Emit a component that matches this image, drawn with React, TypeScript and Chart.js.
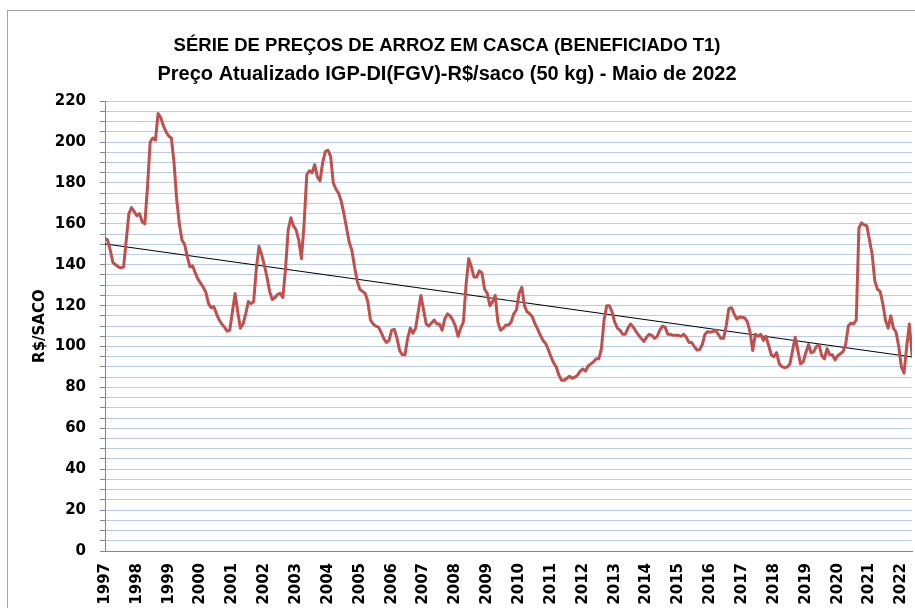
import React, { useEffect, useRef } from 'react';
import { Chart, registerables } from 'chart.js';

Chart.register(...registerables);

const TITLE = 'SÉRIE DE PREÇOS DE ARROZ EM CASCA (BENEFICIADO T1)';
const SUBTITLE = 'Preço Atualizado IGP-DI(FGV)-R$/saco (50 kg) - Maio de 2022';
const Y_TITLE = 'R$/SACO';

// tick labels (one per January)
const anos = [
  '1997', '1998', '1999', '2000', '2001', '2002', '2003', '2004', '2005',
  '2006', '2007', '2008', '2009', '2010', '2011', '2012', '2013', '2014',
  '2015', '2016', '2017', '2018', '2019', '2020', '2021', '2022',
];

// monthly price, R$/saco (Jan 1997 .. May 2022)
const precos = [
  153, 152, 147, 141, 140, 139, 138.5, 139, 152, 165, 168, 166, // 1997
  164, 165, 161, 160, 178, 200, 202, 201, 214, 212, 208, 205, // 1998
  203, 202, 190, 172, 160, 152, 150, 144, 139, 139.5, 136, 133, // 1999
  131, 129, 126.5, 121, 119, 119.5, 116, 113, 111, 109.5, 107.5, 108, // 2000
  117, 126, 117, 109, 111, 116, 122, 121, 122, 138, 149, 145, // 2001
  140, 134, 127, 123, 124, 125.5, 126, 124, 138, 157, 163, 159, // 2002
  157, 152, 143, 160, 184, 186, 185, 189, 183, 181, 190, 195.5, // 2003
  196, 193, 180, 177, 175, 171, 165, 158, 151, 147, 139, 132, // 2004
  128, 127, 126, 122, 113, 111, 110, 109.5, 107, 104, 102, 103, // 2005
  108, 108.4, 104, 98, 96, 96, 104, 109, 106.5, 109, 117, 125, // 2006
  118, 111, 110, 111.5, 113, 111, 111, 108, 113.5, 116, 115, 113, // 2007
  110, 105, 109, 112, 130, 143, 139, 134, 134, 137, 136, 128, // 2008
  126, 120, 122, 125, 112, 108, 109, 110.5, 110.5, 112, 116, 118, // 2009
  126, 129, 120, 117, 116, 114.5, 111, 108.5, 105.5, 103, 101.5, 98.5, // 2010
  95, 92, 90, 86, 83.5, 83.5, 84.5, 85.5, 84.5, 85, 86, 88, // 2011
  89, 88, 90.5, 91.5, 92.5, 94, 94, 99, 113, 120, 120, 117, // 2012
  112, 109, 108, 106, 106, 109, 111, 109.5, 107.5, 105.5, 104, 102.5, // 2013
  104.5, 106, 105.5, 104, 105, 108, 110, 109.5, 106, 106, 105.5, 105.5, // 2014
  105.5, 105, 106, 104.5, 102, 102, 100, 98.3, 98.5, 101, 106, 107.3, // 2015
  107, 107.3, 108, 106, 104, 104, 110, 118.5, 119, 116, 113.5, 114.5, // 2016
  114.3, 114, 112, 107, 98, 106, 105, 106, 103, 105, 100.5, 96, // 2017
  95, 97, 91.5, 90.2, 89.7, 90, 91.5, 98, 104.5, 98, 91.5, 92.5, // 2018
  97, 101, 97, 97.5, 100, 101, 95.5, 94, 99, 96, 96, 93.5, // 2019
  95.5, 96.5, 97.5, 101, 110, 111.5, 111, 113, 158, 160.5, 159.5, 159, // 2020
  152, 145, 132, 128, 127, 121, 113, 109, 115, 109, 107, 100, // 2021
  90, 87, 100, 111, 96, // 2022
];

// linear trend line, start and end values
const tendencia = [150.2, 94.9];

const TICK_FONT = { family: '"DejaVu Sans", sans-serif', size: 15, weight: 'bold' as const };
const TITLE_FAMILY = '"Liberation Sans", Arial, sans-serif';

export default function App() {
  const ref = useRef<HTMLCanvasElement | null>(null);

  useEffect(() => {
    if (!ref.current) return;
    const last = precos.length - 1;
    const chart = new Chart(ref.current, {
      type: 'line',
      data: {
        datasets: [
          {
            label: 'Preço',
            data: precos.map((v, i) => ({ x: i, y: v })),
            borderColor: '#C0504D',
            borderWidth: 3,
            pointRadius: 0,
            tension: 0,
            fill: false,
            borderJoinStyle: 'round',
            borderCapStyle: 'round',
          },
          {
            label: 'Tendência',
            data: [
              { x: 0, y: tendencia[0] },
              { x: last, y: tendencia[1] },
            ],
            borderColor: '#000000',
            borderWidth: 1,
            pointRadius: 0,
            tension: 0,
            fill: false,
          },
        ],
      },
      options: {
        animation: false,
        responsive: false,
        devicePixelRatio: 1,
        layout: { padding: { left: -18, right: 3, top: 0, bottom: 0 } },
        plugins: {
          legend: { display: false },
          tooltip: { enabled: false },
          title: {
            display: true,
            text: TITLE,
            color: '#000000',
            font: { family: TITLE_FAMILY, size: 18.5, weight: 'bold' },
            padding: { top: 35, bottom: 0 },
          },
          subtitle: {
            display: true,
            text: SUBTITLE,
            color: '#000000',
            font: { family: TITLE_FAMILY, size: 20, weight: 'bold' },
            padding: { top: 5, bottom: 15 },
          },
        },
        scales: {
          x: {
            type: 'linear',
            min: 0,
            max: last,
            grid: { display: false, drawTicks: false },
            border: { display: true, color: '#868686', width: 1 },
            ticks: {
              stepSize: 12,
              includeBounds: false,
              autoSkip: false,
              maxRotation: 90,
              minRotation: 90,
              padding: 12,
              color: '#000000',
              font: TICK_FONT,
              callback: (v: any) => {
                const n = Number(v);
                return n % 12 === 0 ? anos[n / 12] ?? '' : '';
              },
            },
            afterFit: (s: any) => {
              s.height = 57;
              s.paddingLeft = 0;
              s.paddingRight = 0;
            },
          },
          y: {
            min: 0,
            max: 220,
            grid: { color: '#B9CDE5', lineWidth: 1, tickColor: '#868686', tickLength: 5, drawTicks: true },
            border: { display: true, color: '#868686', width: 1 },
            ticks: {
              stepSize: 5,
              autoSkip: false,
              padding: 14,
              color: '#000000',
              font: TICK_FONT,
              callback: (v: any) => (Number(v) % 20 === 0 ? String(v) : ''),
            },
            title: {
              display: true,
              text: Y_TITLE,
              color: '#000000',
              font: TICK_FONT,
              padding: { top: 49, bottom: 0 },
            },
            afterFit: (s: any) => {
              s.width = 123;
            },
          },
        },
      },
    });
    return () => chart.destroy();
  }, []);

  return (
    <div style={{ position: 'fixed', left: 0, top: 0, width: 915, height: 608, background: '#ffffff', overflow: 'hidden' }}>
      <div
        style={{
          position: 'absolute',
          left: 7,
          top: 10,
          width: 1200,
          height: 1200,
          borderLeft: '1px solid #A6A6A6',
          borderTop: '1px solid #A6A6A6',
        }}
      />
      <canvas ref={ref} width={915} height={608} style={{ position: 'absolute', left: 0, top: 0, width: 915, height: 608 }} />
    </div>
  );
}
